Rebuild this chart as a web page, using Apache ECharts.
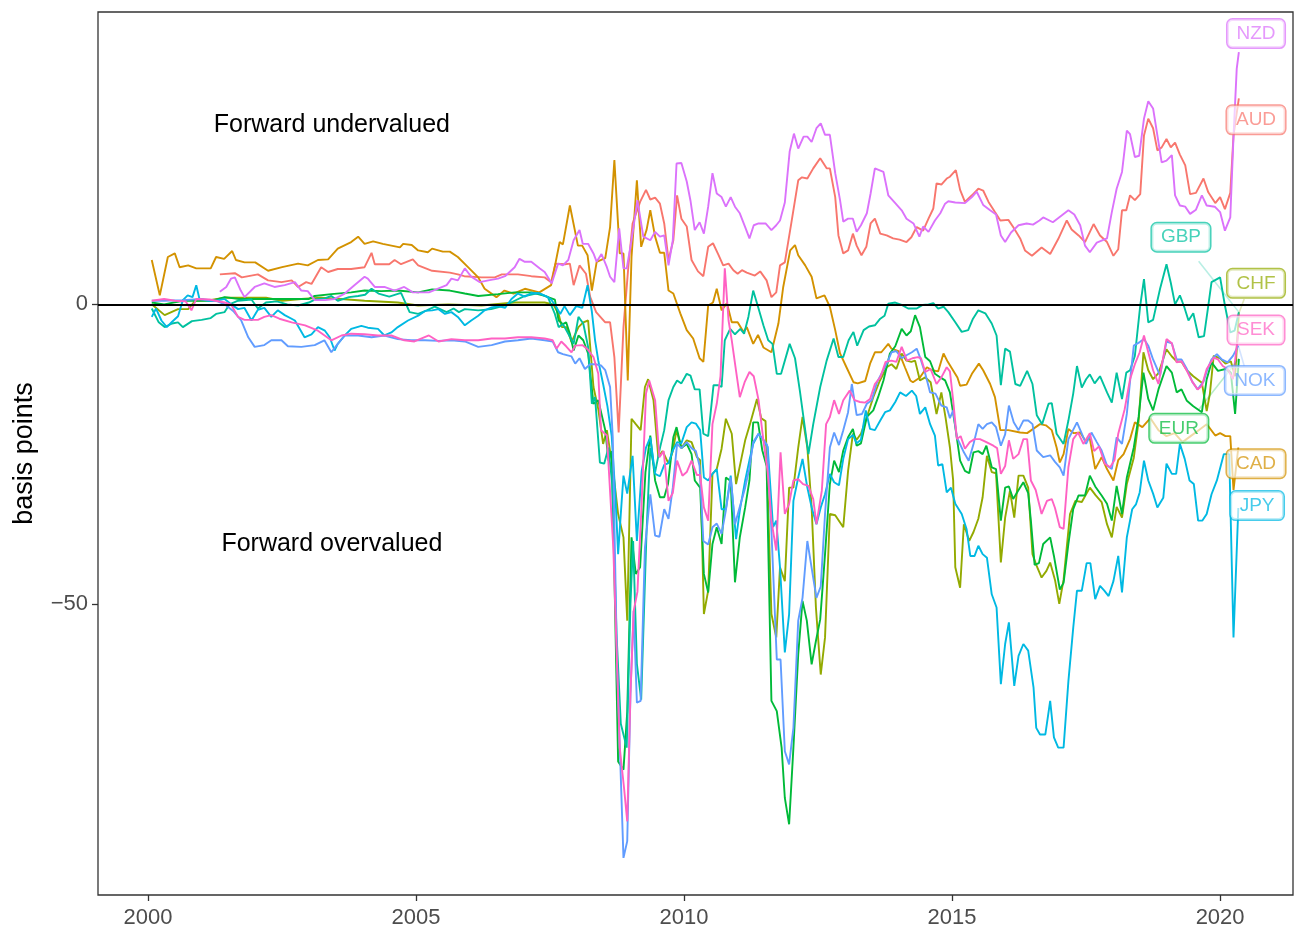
<!DOCTYPE html>
<html>
<head>
<meta charset="utf-8">
<script src="https://cdn.jsdelivr.net/npm/echarts@6/dist/echarts.min.js"></script>
<style>html,body{margin:0;padding:0;background:#fff}#c{width:1296px;height:931px}</style>
</head>
<body>
<div id="c"></div>
<script>
// ---- data: [decimal year, basis points] ----
const AUD = [[2001.34,5.0],[2001.62,5.2],[2001.75,4.5],[2002.05,5.0],[2002.24,4.0],[2002.49,3.7],[2002.68,4.0],[2002.8,2.9],[2002.95,3.7],[2003.05,3.4],[2003.23,6.2],[2003.36,5.4],[2003.54,5.9],[2003.79,5.9],[2004.04,6.2],[2004.17,8.6],[2004.23,6.7],[2004.5,6.7],[2004.6,7.4],[2004.72,6.7],[2004.94,7.5],[2005.04,6.5],[2005.3,5.6],[2005.63,5.3],[2005.78,5.0],[2005.9,4.7],[2006.22,4.5],[2006.47,4.5],[2006.6,5.0],[2006.9,5.0],[2007.15,4.7],[2007.4,4.5],[2007.52,3.7],[2007.6,6.8],[2007.78,6.7],[2007.87,6.8],[2007.94,3.2],[2008.05,6.5],[2008.17,5.1],[2008.25,1.2],[2008.36,-1.3],[2008.43,-2.0],[2008.53,-3.0],[2008.62,-3.0],[2008.7,-8.8],[2008.78,-21.4],[2008.87,-3.8],[2008.96,6.2],[2009.04,13.5],[2009.18,17.1],[2009.29,19.1],[2009.37,17.5],[2009.46,17.8],[2009.55,16.8],[2009.63,13.5],[2009.71,7.4],[2009.8,10.7],[2009.87,18.2],[2009.95,14.3],[2010.05,13.0],[2010.14,7.4],[2010.26,5.5],[2010.36,4.7],[2010.45,9.6],[2010.54,10.2],[2010.64,8.3],[2010.73,6.5],[2010.83,6.8],[2010.92,5.7],[2011.0,5.1],[2011.08,5.7],[2011.17,5.3],[2011.32,4.8],[2011.42,5.5],[2011.54,4.0],[2011.63,1.2],[2011.72,2.0],[2011.79,6.5],[2011.88,7.0],[2012.0,13.5],[2012.13,20.7],[2012.2,21.2],[2012.3,21.0],[2012.41,22.7],[2012.54,24.4],[2012.66,22.7],[2012.72,22.7],[2012.82,17.9],[2012.88,11.5],[2012.97,8.5],[2013.06,9.0],[2013.15,11.8],[2013.22,9.8],[2013.31,8.2],[2013.4,9.6],[2013.48,13.5],[2013.56,14.3],[2013.66,11.8],[2013.78,11.5],[2013.9,11.0],[2014.02,10.8],[2014.15,10.4],[2014.24,11.2],[2014.34,12.9],[2014.46,12.3],[2014.56,14.3],[2014.65,16.0],[2014.71,20.2],[2014.8,20.0],[2014.9,21.0],[2014.96,21.3],[2015.07,22.4],[2015.15,19.1],[2015.24,17.1],[2015.37,18.2],[2015.49,19.3],[2015.58,19.0],[2015.68,17.1],[2015.8,15.4],[2015.9,14.0],[2016.05,14.1],[2016.14,12.9],[2016.27,11.0],[2016.36,9.0],[2016.49,8.1],[2016.67,9.5],[2016.83,8.4],[2016.98,10.9],[2017.14,14.0],[2017.23,12.5],[2017.36,11.5],[2017.48,10.4],[2017.64,13.4],[2017.76,11.5],[2017.89,10.4],[2018.01,8.1],[2018.1,9.2],[2018.17,15.7],[2018.25,15.7],[2018.32,18.2],[2018.41,17.4],[2018.51,18.4],[2018.58,28.2],[2018.66,31.0],[2018.75,29.4],[2018.83,25.7],[2018.91,26.2],[2019.0,27.6],[2019.08,26.2],[2019.16,27.0],[2019.25,25.0],[2019.35,23.2],[2019.44,18.4],[2019.55,18.6],[2019.69,21.0],[2019.78,18.7],[2019.91,16.9],[2020.0,17.9],[2020.09,15.9],[2020.19,18.6],[2020.25,28.2],[2020.35,34.4]];

const CAD = [[2000.07,7.4],[2000.22,1.5],[2000.37,7.9],[2000.5,8.5],[2000.59,6.2],[2000.75,6.5],[2000.9,6.0],[2001.17,6.0],[2001.27,7.9],[2001.42,7.6],[2001.57,8.9],[2001.64,7.4],[2001.8,7.0],[2002.0,7.0],[2002.24,5.6],[2002.5,6.2],[2002.8,6.8],[2002.98,6.5],[2003.17,7.4],[2003.36,7.5],[2003.54,9.3],[2003.79,10.4],[2003.92,11.3],[2004.04,10.1],[2004.2,10.5],[2004.38,10.1],[2004.7,9.5],[2004.76,10.1],[2004.92,9.9],[2005.04,9.0],[2005.22,8.7],[2005.3,9.3],[2005.5,8.8],[2005.63,8.8],[2005.78,7.9],[2005.97,6.2],[2006.16,4.5],[2006.28,2.6],[2006.5,1.2],[2006.65,2.3],[2006.82,1.8],[2007.03,2.6],[2007.3,2.0],[2007.52,3.2],[2007.68,10.4],[2007.74,10.0],[2007.87,16.5],[2008.02,9.8],[2008.1,9.8],[2008.2,8.2],[2008.28,2.3],[2008.37,7.1],[2008.53,7.7],[2008.62,12.9],[2008.7,24.1],[2008.8,8.5],[2008.87,8.5],[2008.95,-12.7],[2009.02,7.9],[2009.12,20.7],[2009.2,9.6],[2009.3,12.4],[2009.37,15.7],[2009.46,11.3],[2009.55,8.6],[2009.63,8.6],[2009.71,2.3],[2009.8,1.8],[2009.93,-1.5],[2010.05,-4.3],[2010.17,-5.7],[2010.29,-9.0],[2010.36,-9.6],[2010.45,-0.2],[2010.54,0.3],[2010.61,2.6],[2010.7,-1.0],[2010.8,0.2],[2010.89,-3.0],[2011.0,-3.0],[2011.11,-4.6],[2011.17,-3.8],[2011.29,-6.6],[2011.38,-5.1],[2011.48,-7.2],[2011.63,-8.0],[2011.76,-3.2],[2011.85,2.9],[2011.98,9.0],[2012.07,9.9],[2012.13,8.2],[2012.26,6.5],[2012.38,4.6],[2012.47,1.0],[2012.62,1.5],[2012.72,-0.4],[2012.82,-4.3],[2012.91,-8.2],[2013.03,-10.5],[2013.16,-13.0],[2013.24,-13.2],[2013.38,-12.8],[2013.47,-9.9],[2013.56,-8.0],[2013.68,-8.0],[2013.81,-6.6],[2013.87,-7.4],[2014.0,-7.8],[2014.12,-10.5],[2014.22,-12.7],[2014.27,-13.0],[2014.4,-12.2],[2014.53,-10.5],[2014.63,-11.0],[2014.74,-11.2],[2014.84,-8.2],[2014.92,-9.6],[2015.1,-12.2],[2015.15,-13.6],[2015.27,-13.4],[2015.37,-11.6],[2015.5,-9.9],[2015.58,-11.0],[2015.71,-13.3],[2015.8,-15.5],[2015.9,-21.0],[2016.05,-21.0],[2016.27,-21.4],[2016.4,-21.5],[2016.64,-20.0],[2016.75,-20.2],[2016.86,-21.0],[2016.95,-23.9],[2017.01,-26.4],[2017.08,-25.0],[2017.17,-20.8],[2017.27,-21.5],[2017.39,-21.4],[2017.48,-22.7],[2017.57,-22.4],[2017.67,-27.5],[2017.79,-25.5],[2017.89,-27.5],[2018.01,-29.4],[2018.1,-26.0],[2018.2,-25.0],[2018.32,-22.5],[2018.41,-19.7],[2018.55,-20.5],[2018.7,-19.0],[2018.85,-21.0],[2019.0,-22.0],[2019.15,-21.5],[2019.3,-23.0],[2019.45,-22.0],[2019.6,-21.0],[2019.75,-20.0],[2019.91,-21.9],[2020.0,-21.5],[2020.1,-22.0],[2020.19,-22.0],[2020.25,-31.0],[2020.34,-23.9]];

const CHF = [[2000.07,0.0],[2000.31,-1.8],[2000.56,-0.8],[2000.75,-0.8],[2000.88,0.6],[2001.15,0.7],[2001.43,1.1],[2001.8,1.1],[2002.2,1.1],[2002.5,0.6],[2002.86,0.9],[2003.23,1.1],[2003.6,0.9],[2004.04,0.6],[2004.66,0.3],[2005.04,-0.2],[2005.6,0.0],[2006.22,-0.2],[2006.84,0.3],[2007.4,0.3],[2007.56,0.0],[2007.66,-1.6],[2007.72,-3.8],[2007.81,-3.8],[2007.9,-6.3],[2008.03,-3.8],[2008.12,-3.0],[2008.21,-2.7],[2008.31,-13.8],[2008.4,-17.5],[2008.49,-23.3],[2008.56,-21.0],[2008.68,-28.0],[2008.77,-35.0],[2008.87,-38.9],[2008.94,-52.8],[2009.02,-19.1],[2009.1,-20.0],[2009.19,-21.0],[2009.27,-13.8],[2009.33,-12.5],[2009.43,-16.0],[2009.52,-25.5],[2009.6,-24.5],[2009.71,-26.6],[2009.79,-24.5],[2009.86,-21.0],[2009.95,-24.0],[2010.05,-22.7],[2010.14,-23.0],[2010.24,-25.5],[2010.3,-26.0],[2010.37,-51.7],[2010.45,-47.8],[2010.53,-28.3],[2010.61,-27.5],[2010.7,-24.1],[2010.78,-19.1],[2010.89,-21.6],[2010.97,-30.0],[2011.04,-27.0],[2011.14,-22.7],[2011.24,-19.7],[2011.36,-15.8],[2011.44,-19.0],[2011.52,-19.5],[2011.63,-51.7],[2011.72,-55.6],[2011.79,-43.9],[2011.88,-46.2],[2011.96,-30.6],[2012.04,-30.6],[2012.13,-23.9],[2012.21,-18.8],[2012.3,-23.9],[2012.38,-33.9],[2012.46,-50.6],[2012.55,-61.8],[2012.63,-55.6],[2012.72,-35.0],[2012.82,-35.2],[2012.97,-37.2],[2013.06,-27.8],[2013.15,-21.6],[2013.22,-22.6],[2013.3,-21.6],[2013.41,-18.8],[2013.53,-15.5],[2013.65,-12.8],[2013.78,-10.5],[2013.87,-10.0],[2013.96,-10.8],[2014.06,-8.2],[2014.15,-9.4],[2014.24,-9.6],[2014.31,-9.4],[2014.4,-12.7],[2014.5,-12.2],[2014.6,-13.0],[2014.71,-18.3],[2014.8,-14.7],[2014.88,-19.0],[2014.96,-23.9],[2015.02,-29.4],[2015.06,-43.9],[2015.15,-47.3],[2015.22,-36.7],[2015.32,-39.5],[2015.4,-38.0],[2015.49,-35.8],[2015.57,-32.2],[2015.65,-25.3],[2015.74,-28.0],[2015.82,-28.2],[2015.91,-43.1],[2015.99,-35.6],[2016.08,-31.1],[2016.16,-35.6],[2016.24,-28.6],[2016.33,-28.6],[2016.42,-30.6],[2016.5,-41.7],[2016.57,-43.5],[2016.67,-45.6],[2016.76,-44.5],[2016.83,-43.1],[2016.92,-46.0],[2017.0,-50.0],[2017.08,-46.0],[2017.2,-35.0],[2017.3,-32.8],[2017.42,-33.0],[2017.57,-30.6],[2017.68,-31.9],[2017.79,-33.0],[2017.89,-36.7],[2017.98,-38.9],[2018.07,-33.8],[2018.17,-35.6],[2018.26,-30.0],[2018.39,-25.6],[2018.48,-19.5],[2018.57,-8.0],[2018.66,-11.0],[2018.75,-12.5],[2018.85,-11.5],[2019.0,-7.5],[2019.1,-8.7],[2019.19,-9.5],[2019.28,-9.6],[2019.38,-11.0],[2019.5,-12.0],[2019.66,-13.1],[2019.75,-17.8],[2019.81,-14.9],[2019.88,-8.6],[2020.0,-9.0],[2020.1,-9.9],[2020.2,-9.5],[2020.28,-12.0],[2020.35,-1.5]];

const EUR = [[2000.07,0.3],[2000.3,0.0],[2000.65,0.6],[2001.0,0.6],[2001.2,0.6],[2001.43,1.2],[2001.7,0.9],[2002.0,0.9],[2002.4,0.9],[2002.7,0.9],[2003.0,0.9],[2003.11,1.4],[2003.42,1.7],[2003.79,2.0],[2004.04,2.3],[2004.35,2.2],[2004.66,2.3],[2005.04,2.0],[2005.3,2.5],[2005.63,2.3],[2005.91,1.8],[2006.16,1.4],[2006.53,1.7],[2006.84,2.0],[2007.15,2.0],[2007.4,1.4],[2007.59,0.8],[2007.66,-2.7],[2007.74,-3.3],[2007.8,-3.0],[2007.87,-4.9],[2007.94,-7.7],[2008.03,-5.2],[2008.12,-6.0],[2008.21,-8.2],[2008.31,-16.6],[2008.4,-16.0],[2008.53,-21.0],[2008.59,-26.1],[2008.65,-24.5],[2008.7,-45.0],[2008.77,-76.3],[2008.87,-77.7],[2008.94,-68.0],[2009.02,-38.9],[2009.1,-45.0],[2009.18,-43.9],[2009.28,-28.0],[2009.37,-21.9],[2009.46,-29.4],[2009.55,-32.2],[2009.63,-32.2],[2009.7,-30.0],[2009.8,-22.2],[2009.86,-20.5],[2009.95,-24.0],[2010.05,-23.3],[2010.14,-25.0],[2010.2,-29.4],[2010.3,-30.6],[2010.37,-45.0],[2010.45,-48.1],[2010.53,-40.0],[2010.61,-37.2],[2010.7,-40.0],[2010.78,-28.9],[2010.87,-29.5],[2010.95,-46.4],[2011.04,-38.9],[2011.14,-33.9],[2011.22,-29.4],[2011.29,-19.7],[2011.38,-19.7],[2011.46,-24.4],[2011.54,-27.0],[2011.63,-66.2],[2011.73,-67.9],[2011.82,-74.0],[2011.88,-82.4],[2011.96,-86.8],[2012.04,-74.0],[2012.13,-58.4],[2012.21,-49.5],[2012.29,-52.8],[2012.38,-60.1],[2012.46,-56.2],[2012.54,-52.6],[2012.63,-41.7],[2012.72,-30.0],[2012.8,-26.1],[2012.89,-28.0],[2012.97,-24.4],[2013.06,-22.2],[2013.15,-20.8],[2013.22,-23.6],[2013.3,-23.2],[2013.41,-18.8],[2013.53,-17.7],[2013.62,-15.5],[2013.72,-12.7],[2013.84,-8.2],[2013.94,-7.0],[2014.06,-4.1],[2014.15,-5.2],[2014.23,-4.5],[2014.31,-1.8],[2014.4,-3.8],[2014.5,-8.8],[2014.59,-9.5],[2014.68,-11.6],[2014.78,-12.2],[2014.87,-12.7],[2014.96,-14.7],[2015.06,-20.5],[2015.15,-26.1],[2015.24,-27.8],[2015.32,-28.2],[2015.4,-24.7],[2015.49,-24.5],[2015.57,-25.0],[2015.64,-23.6],[2015.74,-27.2],[2015.82,-27.5],[2015.91,-36.1],[2015.99,-30.6],[2016.06,-30.4],[2016.14,-32.5],[2016.24,-31.0],[2016.33,-29.7],[2016.42,-31.5],[2016.47,-36.1],[2016.54,-43.5],[2016.62,-43.2],[2016.7,-40.0],[2016.83,-38.9],[2016.9,-42.0],[2017.01,-47.6],[2017.08,-46.5],[2017.17,-40.0],[2017.26,-34.2],[2017.36,-31.9],[2017.48,-31.9],[2017.57,-28.6],[2017.67,-30.4],[2017.79,-31.9],[2017.89,-33.3],[2017.98,-36.1],[2018.07,-30.3],[2018.17,-35.0],[2018.26,-28.9],[2018.39,-23.9],[2018.48,-18.8],[2018.57,-11.4],[2018.66,-15.8],[2018.75,-17.7],[2018.85,-14.2],[2019.0,-10.3],[2019.1,-11.4],[2019.19,-14.7],[2019.28,-14.2],[2019.38,-16.1],[2019.5,-17.0],[2019.66,-18.0],[2019.75,-12.5],[2019.84,-9.7],[2019.96,-11.1],[2020.1,-10.8],[2020.2,-11.4],[2020.28,-18.3],[2020.35,-9.1]];

const GBP = [[2000.07,-0.7],[2000.2,-3.0],[2000.31,-3.8],[2000.45,-3.2],[2000.56,-3.0],[2000.65,-3.8],[2000.82,-2.8],[2001.0,-2.6],[2001.17,-2.3],[2001.27,-1.6],[2001.43,-1.3],[2001.52,0.0],[2001.68,0.6],[2001.93,0.8],[2002.05,-0.7],[2002.2,0.3],[2002.4,0.5],[2002.6,0.0],[2002.8,-0.2],[2003.0,0.3],[2003.11,0.8],[2003.3,1.0],[2003.42,1.4],[2003.54,0.6],[2003.75,1.2],[2003.92,1.4],[2004.05,1.6],[2004.17,2.6],[2004.3,1.8],[2004.5,1.3],[2004.72,1.9],[2004.88,-1.3],[2005.04,-1.6],[2005.2,-1.0],[2005.35,-0.4],[2005.57,-1.3],[2005.7,-0.7],[2005.8,-1.3],[2005.91,-0.8],[2006.16,-1.0],[2006.4,-0.8],[2006.65,-0.2],[2006.84,0.6],[2007.03,1.4],[2007.28,1.9],[2007.46,1.2],[2007.59,-1.6],[2007.66,-3.8],[2007.74,-3.3],[2007.84,-4.9],[2007.94,-6.6],[2008.03,-2.1],[2008.12,-3.2],[2008.21,-7.1],[2008.28,-16.6],[2008.34,-15.5],[2008.43,-26.4],[2008.51,-26.6],[2008.59,-23.9],[2008.66,-30.0],[2008.74,-55.0],[2008.82,-70.0],[2008.93,-74.0],[2009.0,-50.0],[2009.05,-39.5],[2009.12,-60.0],[2009.2,-66.0],[2009.3,-38.0],[2009.37,-24.0],[2009.46,-28.0],[2009.55,-24.0],[2009.63,-21.0],[2009.71,-16.0],[2009.8,-13.8],[2009.87,-12.7],[2009.95,-13.2],[2010.05,-11.6],[2010.12,-11.9],[2010.2,-14.2],[2010.29,-14.2],[2010.36,-21.6],[2010.45,-22.0],[2010.55,-13.5],[2010.64,-13.5],[2010.7,-13.8],[2010.76,-6.0],[2010.86,-4.1],[2010.95,-5.0],[2011.05,-4.1],[2011.12,-4.9],[2011.2,-2.1],[2011.29,2.3],[2011.38,-0.4],[2011.48,-3.5],[2011.57,-6.0],[2011.65,-6.6],[2011.73,-11.6],[2011.81,-11.6],[2011.97,-6.6],[2012.07,-9.0],[2012.16,-14.4],[2012.26,-21.0],[2012.32,-25.0],[2012.41,-20.0],[2012.54,-13.8],[2012.66,-9.4],[2012.79,-5.7],[2012.88,-8.8],[2012.97,-8.8],[2013.07,-6.0],[2013.16,-4.6],[2013.23,-6.9],[2013.35,-4.3],[2013.45,-3.7],[2013.56,-3.5],[2013.66,-2.4],[2013.74,-1.9],[2013.81,0.1],[2013.94,0.3],[2014.06,-0.1],[2014.18,-0.7],[2014.34,-0.7],[2014.45,-0.1],[2014.56,0.0],[2014.65,0.2],[2014.74,-0.7],[2014.84,-0.4],[2014.93,-1.3],[2015.06,-3.0],[2015.18,-4.6],[2015.3,-4.3],[2015.39,-2.4],[2015.49,-1.0],[2015.62,-1.5],[2015.74,-3.2],[2015.83,-5.2],[2015.91,-13.5],[2015.99,-7.4],[2016.08,-7.9],[2016.18,-13.3],[2016.27,-13.6],[2016.4,-11.1],[2016.5,-13.3],[2016.58,-18.5],[2016.68,-20.0],[2016.8,-16.6],[2016.86,-16.5],[2016.95,-21.6],[2017.08,-23.3],[2017.17,-19.4],[2017.26,-14.9],[2017.33,-10.3],[2017.42,-13.9],[2017.5,-12.5],[2017.57,-11.7],[2017.66,-13.2],[2017.76,-12.0],[2017.89,-14.7],[2017.98,-16.4],[2018.07,-11.4],[2018.17,-15.8],[2018.25,-11.4],[2018.32,-11.0],[2018.41,-8.6],[2018.51,-0.2],[2018.58,4.2],[2018.66,-3.0],[2018.75,-2.6],[2018.88,2.6],[2019.0,6.7],[2019.08,3.6],[2019.16,0.0],[2019.25,1.5],[2019.33,-0.4],[2019.41,-2.7],[2019.5,-1.5],[2019.6,-5.5],[2019.7,-5.3],[2019.78,-0.2],[2019.84,3.7],[2020.0,4.5],[2020.09,-0.2],[2020.19,-4.7],[2020.27,-4.4],[2020.35,-1.3]];

const JPY = [[2000.07,-2.1],[2000.15,-0.7],[2000.25,-2.7],[2000.35,-3.8],[2000.45,-2.9],[2000.56,-2.0],[2000.65,0.7],[2000.74,1.5],[2000.83,1.2],[2000.9,3.2],[2000.96,0.9],[2001.12,0.6],[2001.27,0.6],[2001.43,0.9],[2001.55,0.0],[2001.68,-0.8],[2001.8,-0.6],[2001.93,-2.7],[2002.05,-0.9],[2002.17,-0.6],[2002.3,-2.1],[2002.42,-1.0],[2002.55,-1.8],[2002.74,-2.7],[2002.92,-5.5],[2003.05,-5.0],[2003.17,-3.8],[2003.3,-4.4],[2003.39,-5.5],[2003.48,-7.7],[2003.54,-6.6],[2003.67,-5.2],[2003.79,-4.1],[2003.98,-3.6],[2004.1,-3.9],[2004.29,-4.1],[2004.41,-5.2],[2004.54,-4.7],[2004.66,-3.8],[2004.85,-2.7],[2005.04,-1.9],[2005.17,-1.1],[2005.3,-1.0],[2005.42,-0.8],[2005.54,-1.6],[2005.66,-1.3],[2005.78,-2.1],[2005.91,-3.5],[2006.03,-2.7],[2006.16,-1.9],[2006.28,-1.0],[2006.41,-0.5],[2006.53,-0.3],[2006.66,-0.6],[2006.78,0.9],[2006.9,1.8],[2007.03,1.3],[2007.15,1.9],[2007.31,1.8],[2007.46,1.2],[2007.52,0.8],[2007.62,-0.5],[2007.69,-1.6],[2007.77,-0.3],[2007.87,-1.8],[2007.99,-0.3],[2008.1,-0.6],[2008.2,3.2],[2008.28,-1.2],[2008.34,-6.0],[2008.4,-9.4],[2008.49,-13.3],[2008.57,-17.0],[2008.65,-22.0],[2008.72,-32.0],[2008.77,-41.7],[2008.82,-35.0],[2008.87,-28.6],[2008.94,-31.6],[2009.04,-25.3],[2009.12,-39.5],[2009.21,-27.8],[2009.29,-23.9],[2009.37,-22.2],[2009.46,-28.3],[2009.55,-28.7],[2009.63,-26.8],[2009.71,-26.5],[2009.79,-24.4],[2009.87,-23.0],[2009.95,-23.2],[2010.05,-20.5],[2010.14,-19.7],[2010.22,-19.9],[2010.3,-21.0],[2010.37,-28.9],[2010.45,-29.4],[2010.53,-28.3],[2010.61,-27.5],[2010.7,-34.2],[2010.78,-34.2],[2010.87,-28.6],[2010.97,-39.2],[2011.04,-34.4],[2011.14,-29.4],[2011.22,-26.0],[2011.29,-23.3],[2011.39,-21.6],[2011.47,-22.5],[2011.56,-23.8],[2011.66,-37.2],[2011.72,-36.1],[2011.79,-43.9],[2011.88,-58.1],[2011.96,-51.7],[2012.04,-32.8],[2012.13,-28.9],[2012.21,-25.8],[2012.3,-30.6],[2012.38,-33.9],[2012.47,-36.7],[2012.55,-33.9],[2012.63,-31.7],[2012.72,-28.3],[2012.8,-29.7],[2012.89,-30.2],[2012.97,-25.8],[2013.06,-22.5],[2013.15,-21.8],[2013.22,-23.2],[2013.3,-22.6],[2013.39,-17.7],[2013.47,-20.8],[2013.56,-21.0],[2013.66,-19.4],[2013.75,-18.0],[2013.84,-17.7],[2013.94,-16.3],[2014.03,-14.7],[2014.14,-15.3],[2014.25,-14.4],[2014.33,-15.3],[2014.4,-18.3],[2014.5,-17.2],[2014.59,-20.0],[2014.68,-21.9],[2014.74,-26.9],[2014.82,-26.7],[2014.9,-31.4],[2014.98,-30.6],[2015.06,-33.3],[2015.18,-35.0],[2015.27,-37.5],[2015.34,-42.0],[2015.42,-42.0],[2015.49,-40.3],[2015.57,-41.7],[2015.65,-42.3],[2015.74,-48.4],[2015.83,-50.6],[2015.91,-63.4],[2015.99,-56.7],[2016.06,-53.1],[2016.16,-63.7],[2016.24,-58.7],[2016.33,-56.7],[2016.42,-57.8],[2016.52,-64.0],[2016.57,-70.7],[2016.64,-71.8],[2016.74,-71.8],[2016.83,-66.2],[2016.9,-72.3],[2016.98,-74.0],[2017.08,-74.0],[2017.17,-62.9],[2017.26,-54.0],[2017.33,-47.8],[2017.42,-47.8],[2017.51,-43.2],[2017.58,-43.2],[2017.67,-49.2],[2017.76,-47.0],[2017.84,-47.8],[2017.92,-48.7],[2018.01,-46.2],[2018.1,-42.0],[2018.17,-48.1],[2018.26,-38.9],[2018.36,-34.2],[2018.43,-33.4],[2018.5,-31.4],[2018.58,-26.1],[2018.66,-29.4],[2018.75,-31.6],[2018.83,-33.9],[2018.94,-32.3],[2019.0,-26.6],[2019.1,-28.3],[2019.18,-28.3],[2019.25,-23.3],[2019.34,-25.8],[2019.43,-29.4],[2019.51,-30.0],[2019.59,-36.1],[2019.67,-36.1],[2019.75,-35.0],[2019.84,-31.7],[2019.94,-29.4],[2020.07,-25.0],[2020.17,-25.0],[2020.25,-55.6],[2020.34,-34.0]];

const NOK = [[2000.07,0.6],[2000.3,0.6],[2000.65,0.7],[2001.0,0.9],[2001.3,0.5],[2001.43,0.0],[2001.6,-1.2],[2001.74,-2.7],[2001.87,-5.5],[2001.99,-7.1],[2002.17,-6.8],[2002.3,-6.0],[2002.49,-6.0],[2002.61,-7.0],[2002.86,-7.1],[2003.11,-6.8],[2003.29,-6.0],[2003.42,-8.0],[2003.54,-6.6],[2003.67,-5.2],[2003.92,-5.2],[2004.17,-5.5],[2004.41,-5.2],[2004.66,-5.8],[2004.91,-6.0],[2005.17,-6.0],[2005.42,-6.1],[2005.66,-6.0],[2005.91,-6.2],[2006.16,-7.1],[2006.41,-6.8],[2006.66,-6.2],[2006.9,-6.0],[2007.15,-5.7],[2007.4,-6.0],[2007.55,-6.2],[2007.65,-8.0],[2007.74,-8.3],[2007.9,-8.7],[2007.97,-9.9],[2008.05,-9.0],[2008.15,-10.8],[2008.25,-10.0],[2008.35,-10.0],[2008.45,-10.2],[2008.53,-11.0],[2008.62,-13.8],[2008.67,-22.2],[2008.75,-60.0],[2008.87,-92.4],[2008.94,-89.6],[2009.0,-65.0],[2009.06,-51.2],[2009.12,-66.5],[2009.19,-66.2],[2009.27,-40.6],[2009.37,-31.7],[2009.46,-38.6],[2009.54,-38.8],[2009.63,-34.2],[2009.71,-35.8],[2009.79,-30.6],[2009.87,-23.3],[2009.95,-24.0],[2010.05,-23.0],[2010.14,-24.0],[2010.22,-24.5],[2010.29,-27.0],[2010.36,-39.5],[2010.45,-40.1],[2010.53,-37.2],[2010.61,-36.6],[2010.7,-38.3],[2010.78,-34.4],[2010.87,-28.9],[2010.95,-36.7],[2011.04,-33.8],[2011.14,-30.6],[2011.22,-27.3],[2011.29,-23.0],[2011.39,-21.6],[2011.47,-22.5],[2011.55,-23.5],[2011.63,-37.8],[2011.73,-59.3],[2011.8,-59.3],[2011.88,-74.6],[2011.96,-76.8],[2012.04,-70.7],[2012.13,-52.8],[2012.21,-49.0],[2012.3,-39.5],[2012.38,-44.0],[2012.47,-49.0],[2012.55,-47.1],[2012.63,-35.0],[2012.72,-23.9],[2012.8,-21.4],[2012.89,-23.5],[2012.97,-21.0],[2013.06,-18.0],[2013.13,-13.3],[2013.22,-18.5],[2013.32,-18.3],[2013.41,-16.6],[2013.5,-16.0],[2013.6,-13.0],[2013.7,-11.3],[2013.78,-9.9],[2013.87,-8.0],[2013.96,-7.8],[2014.06,-9.0],[2014.15,-8.5],[2014.25,-8.0],[2014.34,-7.4],[2014.4,-8.8],[2014.5,-11.6],[2014.59,-14.7],[2014.69,-14.9],[2014.8,-16.9],[2014.9,-17.2],[2014.96,-19.0],[2015.02,-17.7],[2015.09,-22.2],[2015.22,-24.7],[2015.31,-26.1],[2015.4,-23.3],[2015.49,-20.0],[2015.57,-20.8],[2015.65,-20.0],[2015.74,-19.7],[2015.82,-20.5],[2015.91,-23.6],[2015.99,-21.7],[2016.06,-16.9],[2016.15,-19.7],[2016.24,-21.0],[2016.33,-19.4],[2016.42,-19.4],[2016.5,-20.0],[2016.58,-24.4],[2016.7,-25.5],[2016.83,-25.2],[2016.92,-26.3],[2017.01,-27.2],[2017.08,-28.6],[2017.17,-22.5],[2017.33,-19.7],[2017.42,-21.6],[2017.5,-23.3],[2017.6,-21.4],[2017.7,-23.0],[2017.79,-24.4],[2017.89,-26.9],[2017.98,-27.5],[2018.07,-22.2],[2018.17,-23.3],[2018.26,-18.3],[2018.33,-12.0],[2018.39,-6.9],[2018.5,-6.3],[2018.58,-5.8],[2018.66,-6.9],[2018.75,-9.2],[2018.88,-11.9],[2019.0,-6.2],[2019.1,-6.5],[2019.19,-9.2],[2019.28,-9.2],[2019.38,-10.8],[2019.48,-12.9],[2019.58,-14.2],[2019.69,-12.9],[2019.75,-11.2],[2019.84,-9.2],[2019.94,-8.3],[2020.03,-9.2],[2020.14,-9.7],[2020.24,-8.6],[2020.34,-6.9]];

const NZD = [[2001.34,2.1],[2001.46,2.9],[2001.55,4.3],[2001.62,4.5],[2001.73,2.3],[2001.8,1.2],[2001.99,2.9],[2002.17,3.5],[2002.36,2.9],[2002.55,3.2],[2002.74,3.7],[2002.86,2.3],[2002.98,2.2],[2003.11,0.7],[2003.3,0.7],[2003.48,0.9],[2003.67,1.8],[2003.85,3.2],[2004.04,4.6],[2004.1,4.3],[2004.23,2.9],[2004.41,2.9],[2004.6,2.3],[2004.78,2.9],[2004.94,2.0],[2005.24,2.0],[2005.57,3.2],[2005.66,4.3],[2005.78,4.0],[2005.91,6.0],[2006.03,4.6],[2006.19,3.7],[2006.35,4.0],[2006.53,4.3],[2006.66,4.7],[2006.84,6.2],[2006.93,7.6],[2007.03,7.1],[2007.15,7.1],[2007.31,6.0],[2007.4,5.4],[2007.53,3.5],[2007.65,6.8],[2007.74,6.5],[2007.84,7.4],[2007.94,10.7],[2008.05,12.4],[2008.11,10.1],[2008.21,10.1],[2008.31,8.5],[2008.37,7.1],[2008.46,8.4],[2008.56,6.2],[2008.62,4.6],[2008.7,3.7],[2008.79,12.7],[2008.87,6.0],[2008.93,6.0],[2009.02,10.7],[2009.13,17.4],[2009.24,11.3],[2009.37,10.7],[2009.46,12.1],[2009.55,11.3],[2009.63,11.5],[2009.71,6.5],[2009.79,10.7],[2009.86,23.5],[2009.95,23.6],[2010.05,20.5],[2010.12,17.3],[2010.2,12.4],[2010.29,13.7],[2010.37,11.8],[2010.45,16.3],[2010.53,21.9],[2010.61,18.5],[2010.7,17.9],[2010.78,16.3],[2010.87,17.9],[2010.95,16.3],[2011.04,15.2],[2011.14,12.9],[2011.22,11.0],[2011.3,13.2],[2011.39,13.5],[2011.52,13.5],[2011.63,12.4],[2011.72,13.2],[2011.79,14.0],[2011.88,17.0],[2011.97,25.5],[2012.05,28.5],[2012.13,26.0],[2012.23,28.0],[2012.3,28.0],[2012.38,27.1],[2012.47,29.4],[2012.55,30.2],[2012.63,28.3],[2012.72,28.3],[2012.82,21.9],[2012.91,17.4],[2012.97,13.8],[2013.06,14.3],[2013.15,14.3],[2013.22,12.1],[2013.3,13.2],[2013.41,15.2],[2013.48,18.5],[2013.56,22.7],[2013.72,22.1],[2013.81,18.2],[2013.94,16.9],[2014.06,15.7],[2014.15,14.3],[2014.28,13.5],[2014.39,11.3],[2014.46,13.0],[2014.56,12.1],[2014.68,14.0],[2014.78,15.2],[2014.87,16.8],[2014.93,17.2],[2015.06,17.0],[2015.24,16.9],[2015.37,17.9],[2015.46,18.8],[2015.58,16.6],[2015.71,15.7],[2015.82,15.0],[2015.91,11.5],[2015.99,10.4],[2016.1,12.0],[2016.24,13.2],[2016.39,13.5],[2016.51,13.3],[2016.63,14.0],[2016.7,14.5],[2016.88,13.7],[2017.17,15.7],[2017.28,15.0],[2017.39,13.2],[2017.48,9.8],[2017.57,8.7],[2017.7,10.3],[2017.89,11.0],[2017.98,15.4],[2018.07,19.3],[2018.17,22.1],[2018.26,29.0],[2018.32,28.4],[2018.41,24.6],[2018.49,24.8],[2018.58,31.0],[2018.66,33.9],[2018.75,32.7],[2018.83,28.2],[2018.91,23.7],[2019.0,24.0],[2019.1,24.9],[2019.16,18.2],[2019.25,16.5],[2019.35,16.3],[2019.44,15.1],[2019.55,15.8],[2019.66,18.2],[2019.75,16.5],[2019.9,16.3],[2020.0,15.4],[2020.09,12.3],[2020.19,14.5],[2020.25,28.0],[2020.31,39.3],[2020.35,42.1]];

const SEK = [[2000.07,0.6],[2000.3,0.9],[2000.5,0.6],[2000.7,0.5],[2000.81,-1.0],[2000.9,0.9],[2001.15,0.8],[2001.43,0.3],[2001.55,0.0],[2001.68,-2.1],[2001.8,-2.6],[2002.05,-2.6],[2002.17,-2.1],[2002.3,-1.8],[2002.45,-2.4],[2002.68,-3.0],[2002.93,-3.5],[2003.17,-4.4],[2003.42,-6.0],[2003.61,-5.2],[2003.79,-4.9],[2004.04,-5.0],[2004.29,-5.2],[2004.54,-5.2],[2004.78,-6.0],[2004.97,-6.2],[2005.24,-5.2],[2005.42,-6.2],[2005.66,-5.8],[2005.91,-6.0],[2006.16,-6.0],[2006.41,-5.7],[2006.66,-5.7],[2006.9,-5.5],[2007.15,-5.5],[2007.4,-5.7],[2007.55,-6.0],[2007.62,-7.4],[2007.71,-6.2],[2007.8,-7.0],[2007.9,-8.0],[2007.97,-6.9],[2008.1,-6.8],[2008.2,-7.5],[2008.31,-8.8],[2008.4,-11.6],[2008.45,-21.0],[2008.56,-21.9],[2008.68,-40.6],[2008.8,-74.0],[2008.88,-80.7],[2008.94,-86.3],[2009.0,-65.0],[2009.06,-51.2],[2009.13,-48.0],[2009.2,-35.0],[2009.29,-14.9],[2009.35,-12.7],[2009.46,-16.0],[2009.54,-25.5],[2009.62,-24.5],[2009.71,-32.8],[2009.79,-31.5],[2009.87,-26.1],[2009.97,-28.6],[2010.05,-28.0],[2010.14,-26.1],[2010.24,-28.5],[2010.3,-28.5],[2010.37,-33.9],[2010.45,-36.1],[2010.53,-20.0],[2010.61,-16.6],[2010.68,-12.0],[2010.76,6.0],[2010.83,-2.7],[2010.89,-6.0],[2010.96,-10.5],[2011.04,-15.5],[2011.13,-13.0],[2011.22,-11.3],[2011.3,-12.0],[2011.39,-16.0],[2011.48,-22.7],[2011.56,-28.0],[2011.63,-36.1],[2011.72,-41.1],[2011.8,-24.7],[2011.88,-35.0],[2011.96,-33.3],[2012.04,-29.4],[2012.13,-29.2],[2012.22,-30.0],[2012.32,-30.3],[2012.41,-32.5],[2012.47,-36.7],[2012.57,-31.1],[2012.65,-20.0],[2012.72,-18.8],[2012.8,-16.0],[2012.89,-18.3],[2012.97,-16.0],[2013.09,-14.4],[2013.18,-16.0],[2013.28,-16.3],[2013.38,-16.4],[2013.47,-15.8],[2013.56,-13.3],[2013.66,-12.2],[2013.76,-9.6],[2013.87,-9.4],[2013.96,-9.6],[2014.06,-7.1],[2014.16,-9.4],[2014.26,-9.0],[2014.36,-8.8],[2014.42,-9.0],[2014.5,-11.3],[2014.6,-10.8],[2014.71,-13.3],[2014.8,-12.2],[2014.9,-10.5],[2014.96,-11.2],[2015.02,-16.0],[2015.09,-22.5],[2015.16,-22.0],[2015.24,-24.1],[2015.33,-23.0],[2015.42,-22.5],[2015.52,-22.5],[2015.64,-23.0],[2015.77,-23.6],[2015.84,-24.0],[2015.91,-28.3],[2015.99,-27.0],[2016.06,-22.7],[2016.14,-25.8],[2016.24,-25.0],[2016.33,-22.5],[2016.4,-22.5],[2016.47,-29.4],[2016.56,-31.0],[2016.67,-35.0],[2016.77,-32.8],[2016.86,-32.5],[2016.92,-34.0],[2017.01,-37.2],[2017.08,-37.5],[2017.17,-27.2],[2017.26,-22.5],[2017.35,-21.4],[2017.45,-23.3],[2017.57,-21.5],[2017.65,-24.5],[2017.74,-23.7],[2017.85,-26.6],[2017.95,-27.2],[2018.03,-26.0],[2018.1,-21.6],[2018.22,-17.5],[2018.32,-12.5],[2018.41,-10.0],[2018.5,-8.0],[2018.58,-5.2],[2018.66,-8.0],[2018.75,-11.0],[2018.85,-13.3],[2019.0,-5.8],[2019.1,-6.5],[2019.19,-9.7],[2019.28,-9.5],[2019.38,-11.1],[2019.48,-12.9],[2019.58,-14.2],[2019.66,-13.6],[2019.75,-10.8],[2019.88,-8.9],[2019.96,-9.2],[2020.05,-10.3],[2020.14,-10.8],[2020.24,-12.5],[2020.34,-4.7]];

const CURRENCIES = ['AUD','CAD','CHF','EUR','GBP','JPY','NOK','NZD','SEK'];
const SERIES_DATA = {AUD, CAD, CHF, EUR, GBP, JPY, NOK, NZD, SEK};
const X_TICKS = [2000, 2005, 2010, 2015, 2020];
const Y_TICKS = [-50, 0];
const ANNOTATIONS = ['Forward undervalued', 'Forward overvalued'];

// ---- layout / styling (not data) ----
const COLORS = {AUD:'#F8766D', CAD:'#D39200', CHF:'#93AA00', EUR:'#00BA38', GBP:'#00C19F', JPY:'#00B9E3', NOK:'#619CFF', NZD:'#DB72FB', SEK:'#FF61C3'};
const LABEL_POS = {NZD:[2020.67,45.2], AUD:[2020.67,30.8], GBP:[2019.27,11.2], CHF:[2020.67,3.5], SEK:[2020.67,-4.3], NOK:[2020.65,-12.7], EUR:[2019.23,-20.7], CAD:[2020.67,-26.6], JPY:[2020.69,-33.6]};
const CONNECT = {GBP:[2019.6,7.2], CHF:[2020.45,0.9], NOK:[2020.45,-10.3], EUR:[2019.6,-17.6]};
const ANNOT_POS = [[2003.43,29.9],[2003.43,-40.1]];
const FONT = '"Liberation Sans", Arial, Helvetica, sans-serif';

function rgba(hex, a){
  const n = parseInt(hex.slice(1),16);
  return 'rgba(' + ((n>>16)&255) + ',' + ((n>>8)&255) + ',' + (n&255) + ',' + a + ')';
}

const series = CURRENCIES.map(name => {
  const data = SERIES_DATA[name];
  const c = COLORS[name];
  const s = {
    name, type:'line', data, showSymbol:false, symbol:'none', animation:false, silent:true,
    lineStyle:{color:c, width:1.9}, itemStyle:{color:c}, z:2,
    markPoint:{
      symbol:'rect', symbolSize:0.01, silent:true, animation:false, z:10,
      itemStyle:{color:'rgba(0,0,0,0)'},
      data:[{coord:LABEL_POS[name]}],
      label:{show:true, position:'inside', formatter:name, color:rgba(c,0.72), fontFamily:FONT, fontSize:19,
        lineHeight:20, backgroundColor:'rgba(255,255,255,0.65)', borderColor:rgba(c,0.72), borderWidth:1.5,
        borderRadius:5, padding:[4,9,4,9]}
    }
  };
  if (CONNECT[name]) {
    s.markLine = {silent:true, animation:false, symbol:'none', z:4,
      lineStyle:{color:rgba(c,0.28), width:1.6, type:'solid'},
      label:{show:false},
      data:[[{coord:CONNECT[name]},{coord:data[data.length-1]}]]};
  }
  return s;
});

// zero reference line and the two annotations
series.push({
  name:'ref', type:'line', data:[], silent:true, animation:false,
  markLine:{silent:true, animation:false, symbol:'none', z:6, label:{show:false},
    lineStyle:{color:'#000', width:1.9, type:'solid'}, data:[{yAxis:0}]},
  markPoint:{symbol:'rect', symbolSize:0.01, silent:true, animation:false, itemStyle:{color:'rgba(0,0,0,0)'},
    data: ANNOTATIONS.map((t,i)=>({coord:ANNOT_POS[i], label:{formatter:t}})),
    label:{show:true, position:'inside', color:'#000', fontFamily:FONT, fontSize:25}}
});

const chart = echarts.init(document.getElementById('c'), null, {renderer:'canvas'});
chart.setOption({
  animation:false,
  backgroundColor:'#fff',
  grid:{left:98, right:3, top:12, bottom:36, show:true, borderColor:'#333333', borderWidth:1.3, backgroundColor:'#fff', containLabel:false},
  xAxis:{type:'value', min:1999.067, max:2021.36, position:'bottom',
    axisLine:{show:false, onZero:false},
    splitLine:{show:false},
    axisTick:{show:true, inside:false, customValues:X_TICKS, length:6, lineStyle:{color:'#333333', width:1.3}},
    axisLabel:{customValues:X_TICKS, formatter:v=>String(v), color:'#4D4D4D', fontFamily:FONT, fontSize:22, margin:12}
  },
  yAxis:{type:'value', min:-98.6, max:48.8, position:'left',
    name:'basis points', nameLocation:'middle', nameGap:60, nameRotate:90,
    nameTextStyle:{color:'#000', fontFamily:FONT, fontSize:27},
    axisLine:{show:false, onZero:false},
    splitLine:{show:false},
    axisTick:{show:true, inside:false, customValues:Y_TICKS, length:6, lineStyle:{color:'#333333', width:1.3}},
    axisLabel:{customValues:Y_TICKS, formatter:v=>(v<0?'\u2212'+Math.abs(v):String(v)), color:'#4D4D4D', fontFamily:FONT, fontSize:22, margin:10}
  },
  series
});
</script>
</body>
</html>
